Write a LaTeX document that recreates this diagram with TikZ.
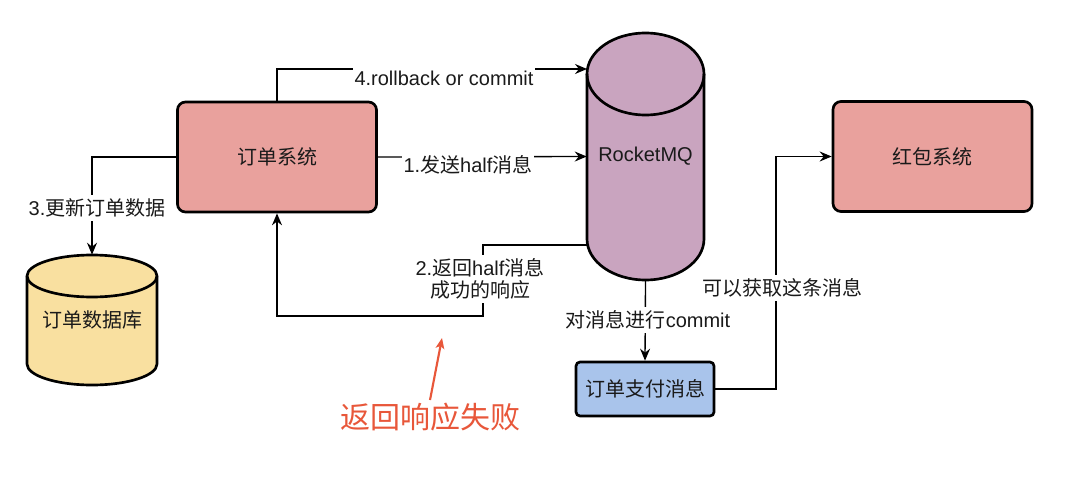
\documentclass[tikz,border=0pt]{standalone}
\usepackage{fontspec}
\setmainfont{Liberation Sans}
\newfontfamily\cjk{Noto Sans CJK SC}
\usetikzlibrary{arrows.meta}
\definecolor{orderfill}{HTML}{E9A19D}
\definecolor{mqfill}{HTML}{C9A4BF}
\definecolor{dbfill}{HTML}{F9E0A0}
\definecolor{payfill}{HTML}{A9C4EB}
\definecolor{failred}{HTML}{E8573A}
\definecolor{ink}{HTML}{1A1A1A}
\tikzset{
  sysbox/.style={draw=black, line width=2pt, rounded corners=6pt, fill=orderfill,
    minimum width=149.25pt, minimum height=82.5pt, inner sep=0pt, text=ink,
    font=\fontsize{15}{18}\selectfont\cjk},
  paybox/.style={draw=black, line width=2pt, rounded corners=3pt, fill=payfill,
    minimum width=103.5pt, minimum height=40.5pt, inner sep=0pt, text=ink,
    font=\fontsize{15}{18}\selectfont\cjk},
  cylshape/.style={draw=black, line width=2pt},
  conn/.style={draw=black, line width=1pt, -{Stealth[length=9pt,width=7.5pt,inset=3pt]}},
  lbl/.style={fill=white, inner xsep=1.5pt, inner ysep=3pt, text=ink,
    font=\fontsize{15}{16.5}\selectfont},
  failarrow/.style={draw=failred, line width=1.6pt, -{Stealth[length=8pt,width=6.5pt,inset=2pt]}},
}
\begin{document}
\begin{tikzpicture}[x=0.75pt,y=-0.75pt]
\useasboundingbox (0,0) rectangle (1080,481);

% RocketMQ cylinder
\path[cylshape, fill=mqfill] (587,74) -- (587,239)
  arc[start angle=180, end angle=360, x radius=43.875pt, y radius=30.75pt]
  -- (704,74)
  arc[start angle=0, end angle=180, x radius=43.875pt, y radius=30.75pt] -- cycle;
\draw[cylshape] (587,74) arc[start angle=180, end angle=360, x radius=43.875pt, y radius=30.75pt];
\node[minimum width=87.75pt, minimum height=185.25pt, inner sep=0pt, text=ink,
  font=\fontsize{15}{18}\selectfont] (mq) at (645.5,156.5) {RocketMQ};

% database cylinder
\path[cylshape, fill=dbfill] (27,276) -- (27,364)
  arc[start angle=180, end angle=360, x radius=48.75pt, y radius=15.75pt]
  -- (157,276)
  arc[start angle=0, end angle=180, x radius=48.75pt, y radius=15.75pt] -- cycle;
\draw[cylshape] (27,276) arc[start angle=180, end angle=360, x radius=48.75pt, y radius=15.75pt];
\node[minimum width=97.5pt, minimum height=97.5pt, inner sep=0pt, text=ink,
  font=\fontsize{15}{18}\selectfont\cjk] (db) at (92,320) {订单数据库};

% boxes
\node[sysbox] (order) at (277,157) {订单系统};
\node[sysbox] (hb) at (932.5,156.5) {红包系统};
\node[paybox] (pay) at (645,389) {订单支付消息};

% named points on the cylinder and bends
\coordinate (mq4) at (587,69);
\coordinate (mq2) at (587,245);
\coordinate (ret2) at (483,316);
\coordinate (kturn) at (776,389);
\coordinate (failtip) at (442,338);

% connectors
\draw[conn] (order.north) |- (mq4);
\draw[conn] (order.east) -- (mq.west);
\draw[conn] (order.west) -| (db.north);
\draw[conn] (mq2) -| (ret2) -| (order.south);
\draw[conn] (mq.south) -- (pay.north);
\draw[conn] (pay.east) -- (kturn) |- (hb.west);

% connector labels
\node[lbl] (l4) at (444,78) {4.rollback or commit};
\node[lbl] (l1) at (468,165) {1.{\cjk 发送}half{\cjk 消息}};
\node[lbl, align=center] (l2) at (480,279) {2.{\cjk 返回}half{\cjk 消息}\\{\cjk 成功的响应}};
\node[lbl] (l3) at (97,208) {3.{\cjk 更新订单数据}};
\node[lbl] (lc) at (648,320) {{\cjk 对消息进行}commit};
\node[lbl] (lk) at (782,288) {{\cjk 可以获取这条消息}};

% failure annotation
\node[text=failred, inner sep=2pt, font=\fontsize{22.5}{27}\selectfont\cjk] (fail) at (430,417) {返回响应失败};
\draw[failarrow] (fail.north) -- (failtip);
\end{tikzpicture}
\end{document}
